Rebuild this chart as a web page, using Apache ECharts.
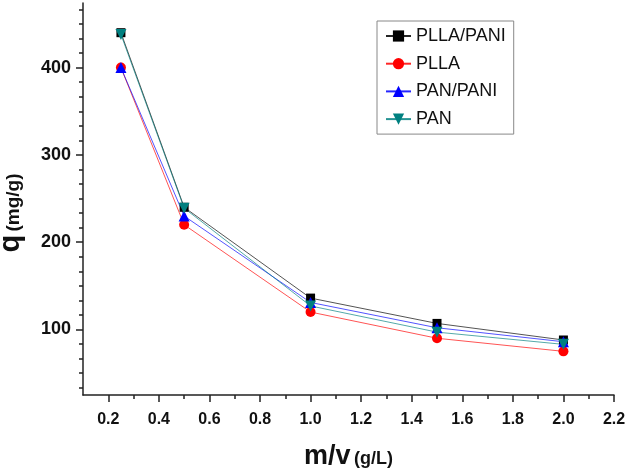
<!DOCTYPE html>
<html><head><meta charset="utf-8">
<script src="https://cdn.jsdelivr.net/npm/echarts@6/dist/echarts.min.js"></script>
<style>html,body{margin:0;padding:0;background:#fff}#c{width:631px;height:472px}</style>
</head><body><div id="c"></div>
<script>
const xValues = [0.25, 0.5, 1.0, 1.5, 2.0];
const pllaPani = [440, 240, 136, 107, 88];
const plla = [400, 220, 120, 90, 75];
const panPani = [400, 230, 131, 102, 86];
const pan = [438, 239, 127, 97, 83];
const xMajorTicks = [0.2, 0.4, 0.6, 0.8, 1.0, 1.2, 1.4, 1.6, 1.8, 2.0, 2.2];
const xMinorTicks = [0.3, 0.5, 0.7, 0.9, 1.1, 1.3, 1.5, 1.7, 1.9, 2.1];
const yMajorTicks = [100, 200, 300, 400];
const yMinorTicks = [33.33, 50, 66.67, 83.33, 116.67, 133.33, 150, 166.67, 183.33, 216.67, 233.33, 250, 266.67, 283.33, 316.67, 333.33, 350, 366.67, 383.33, 416.67, 433.33, 450, 466.67];

const FONT = 'Arial, "Liberation Sans", sans-serif';
const chart = echarts.init(document.getElementById('c'), null, {renderer: 'canvas'});
const pair = (ys) => xValues.map((x, i) => [x, ys[i]]);
const axisLineStyle = {color: '#222', width: 1.5};

function mkSeries(name, ys, symbol, color, size, rot) {
  return {
    name, type: 'line', data: pair(ys), symbol, symbolSize: size, symbolRotate: rot || 0,
    lineStyle: {color, width: 0.8, opacity: 0.85}, itemStyle: {color}, xAxisIndex: 0, yAxisIndex: 0
  };
}

chart.setOption({
  animation: false,
  grid: {left: 83, right: 17, top: 3, bottom: 77, containLabel: false, outerBoundsMode: 'none'},
  legend: {
    orient: 'vertical', left: 377, top: 21,
    padding: [6, 8, 6, 8], itemGap: 9.7, itemWidth: 25, itemHeight: 14,
    borderColor: '#888', borderWidth: 1,
    textStyle: {fontFamily: FONT, fontSize: 18, color: '#111', lineHeight: 14},
    data: ['PLLA/PANI', 'PLLA', 'PAN/PANI', 'PAN']
  },
  xAxis: [{
    type: 'value', min: 0.1, max: 2.2,
    axisLine: {lineStyle: axisLineStyle},
    axisTick: {show: true, length: 7, customValues: xMajorTicks, lineStyle: axisLineStyle},
    axisLabel: {customValues: xMajorTicks, formatter: v => v.toFixed(1), fontFamily: FONT, fontWeight: 'bold', fontSize: 16, color: '#111', margin: 17},
    splitLine: {show: false},
    name: '{a|m/v} {b|(g/L)}', nameLocation: 'middle', nameGap: 48,
    nameTextStyle: {rich: {a: {fontFamily: FONT, fontWeight: 'bold', fontSize: 27, color: '#111'}, b: {fontFamily: FONT, fontWeight: 'bold', fontSize: 18, color: '#111', padding: [5, 0, 0, 0]}}}
  }, {
    type: 'value', min: 0.1, max: 2.2, position: 'bottom',
    axisLine: {show: false},
    axisTick: {show: true, length: 4, customValues: xMinorTicks, lineStyle: axisLineStyle},
    axisLabel: {show: false}, splitLine: {show: false}
  }],
  yAxis: [{
    type: 'value', min: 25, max: 474,
    axisLine: {show: true, lineStyle: axisLineStyle},
    axisTick: {show: true, length: 7, customValues: yMajorTicks, lineStyle: axisLineStyle},
    axisLabel: {customValues: yMajorTicks, fontFamily: FONT, fontWeight: 'bold', fontSize: 18, color: '#111', margin: 12},
    splitLine: {show: false},
    name: '{a|q} {b|(mg/g)}', nameLocation: 'middle', nameGap: 58, nameRotate: 90,
    nameTextStyle: {padding: [0, 28, 0, 0], rich: {a: {fontFamily: FONT, fontWeight: 'bold', fontSize: 29, color: '#111'}, b: {fontFamily: FONT, fontWeight: 'bold', fontSize: 19, color: '#111', padding: [6, 0, 0, 0]}}}
  }, {
    type: 'value', min: 25, max: 474, position: 'left',
    axisLine: {show: false},
    axisTick: {show: true, length: 4, customValues: yMinorTicks, lineStyle: axisLineStyle},
    axisLabel: {show: false}, splitLine: {show: false}
  }],
  series: [
    mkSeries('PLLA/PANI', pllaPani, 'rect', '#000000', 9),
    mkSeries('PLLA', plla, 'circle', '#ff0000', 10),
    mkSeries('PAN/PANI', panPani, 'triangle', '#0000ff', 11),
    mkSeries('PAN', pan, 'triangle', '#008080', 11, 180)
  ]
});
</script></body></html>
